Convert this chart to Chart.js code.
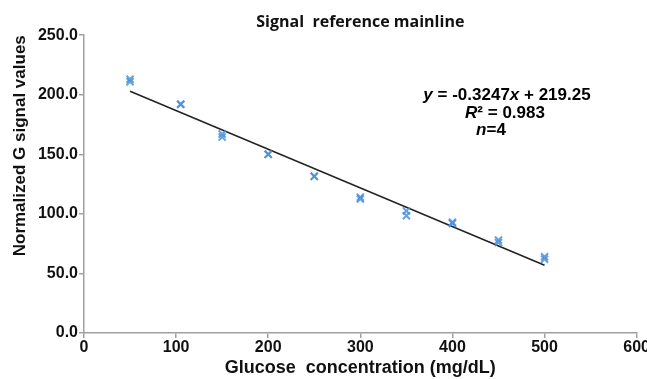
<!DOCTYPE html>
<html>
<head>
<meta charset="utf-8">
<script src="https://cdn.jsdelivr.net/npm/chart.js@4/dist/chart.umd.min.js"></script>
<style>
  html, body { margin: 0; padding: 0; background: #fff; overflow: hidden; }
  #wrap { width: 650px; height: 379px; }
</style>
</head>
<body>
<div id="wrap"><canvas id="chart"></canvas></div>
<script>
// glucose concentrations (mg/dL) and two replicate readings
const concentrations = [50, 105, 150, 200, 250, 300, 350, 400, 450, 500];
const signalA = [213, 192, 167, 150, 131.5, 114, 102.5, 93, 78, 64];
const signalB = [211, 192, 164.5, 150, 131.5, 112.5, 98.5, 92, 76, 62];

// regression line end points
const fitX = [50, 500];
const fitY = [203.0, 56.9];

const xTicks = [0, 100, 200, 300, 400, 500, 600];
const yTicks = [0, 50, 100, 150, 200, 250];

const equationLines = [
  { parts: [['y', true], [' = -0.3247', false], ['x', true], [' + 219.25', false]], x: 507, y: 95 },
  { parts: [['R', true], ['² = 0.983', false]], x: 505, y: 113 },
  { parts: [['n', true], ['=4', false]], x: 491, y: 130 }
];

const points = concentrations.map((c, i) => ({ x: c, y: signalA[i] }))
  .concat(concentrations.map((c, i) => ({ x: c, y: signalB[i] })));
const fit = fitX.map((x, i) => ({ x, y: fitY[i] }));

const axisColor = '#a0a0a0';
const arial = '"Liberation Sans", Arial, sans-serif';
const tickFont = { family: arial, size: 16, weight: 'bold' };

const equationPlugin = {
  id: 'equation',
  afterDraw(chart) {
    const ctx = chart.ctx;
    ctx.save();
    ctx.fillStyle = '#000';
    ctx.textBaseline = 'middle';
    equationLines.forEach(line => {
      const fonts = line.parts.map(p => (p[1] ? 'italic ' : '') + 'bold 17px ' + arial);
      let total = 0;
      line.parts.forEach((p, i) => { ctx.font = fonts[i]; total += ctx.measureText(p[0]).width; });
      let x = line.x - total / 2;
      line.parts.forEach((p, i) => {
        ctx.font = fonts[i];
        ctx.fillText(p[0], x, line.y);
        x += ctx.measureText(p[0]).width;
      });
    });
    ctx.restore();
  }
};

new Chart(document.getElementById('chart'), {
  type: 'scatter',
  data: {
    datasets: [
      {
        label: 'Signal',
        data: points,
        pointStyle: 'crossRot',
        pointRadius: 5,
        pointBorderWidth: 2,
        borderColor: 'rgba(74, 144, 217, 0.85)',
        backgroundColor: 'rgba(74, 144, 217, 0.85)'
      },
      {
        type: 'line',
        label: 'Fit',
        data: fit,
        borderColor: '#222',
        borderWidth: 1.5,
        pointRadius: 0,
        fill: false
      }
    ]
  },
  options: {
    responsive: true,
    maintainAspectRatio: false,
    animation: false,
    plugins: {
      legend: { display: false },
      tooltip: { enabled: false },
      title: {
        display: true,
        text: 'Signal  reference mainline',
        fullSize: false,
        color: '#111',
        font: { family: '"Open Sans", Lato, sans-serif', size: 16, weight: 'bold' },
        padding: { top: 13, bottom: 3 }
      }
    },
    scales: {
      x: {
        type: 'linear',
        min: 0,
        max: 600,
        afterBuildTicks: scale => { scale.ticks = xTicks.map(v => ({ value: v })); },
        afterFit: scale => { scale.height = 46; },
        ticks: { color: '#111', font: tickFont, padding: 0, maxRotation: 0 },
        grid: { display: true, drawOnChartArea: false, drawTicks: true, tickLength: 5, color: axisColor, lineWidth: 1.5 },
        border: { color: axisColor, width: 1.5 },
        title: {
          display: true,
          text: 'Glucose  concentration (mg/dL)',
          color: '#111',
          font: { family: arial, size: 18, weight: 'bold' },
          padding: { top: 0, bottom: 0 }
        }
      },
      y: {
        type: 'linear',
        min: 0,
        max: 250,
        afterBuildTicks: scale => { scale.ticks = yTicks.map(v => ({ value: v })); },
        afterFit: scale => { scale.width = 84; },
        ticks: { color: '#111', font: tickFont, padding: 1, callback: v => v.toFixed(1) },
        grid: { display: true, drawOnChartArea: false, drawTicks: true, tickLength: 5, color: axisColor, lineWidth: 1.5 },
        border: { color: axisColor, width: 1.5 },
        title: {
          display: true,
          text: 'Normalized G signal values',
          color: '#111',
          align: 'end',
          font: { family: arial, size: 17, weight: 'bold' },
          padding: { top: 10, bottom: 0 }
        }
      }
    }
  },
  plugins: [equationPlugin]
});
</script>
</body>
</html>
